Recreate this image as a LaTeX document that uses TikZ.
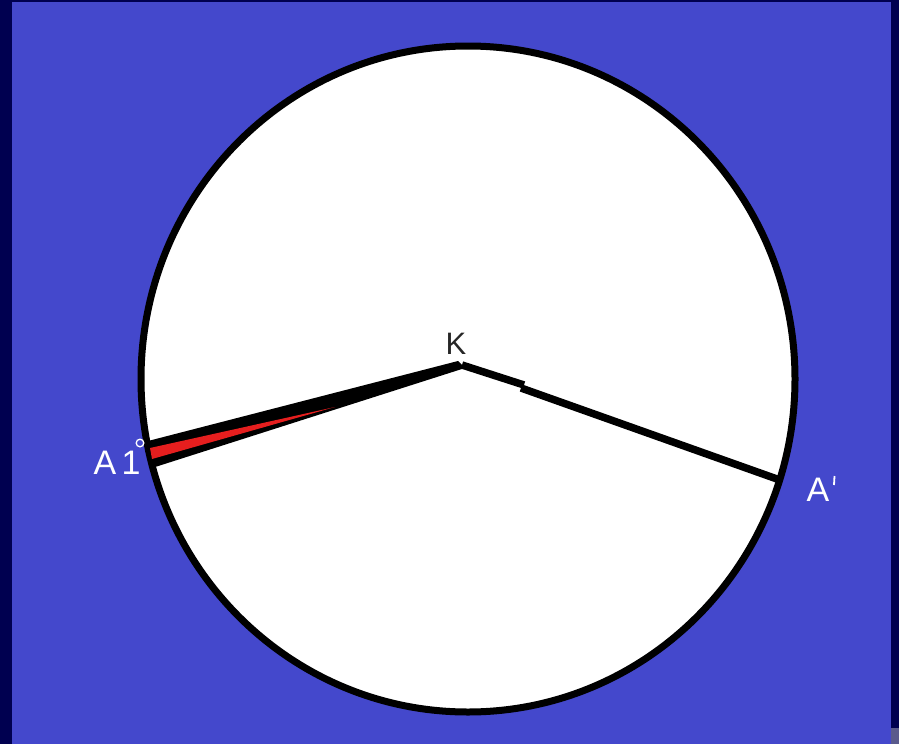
\documentclass[tikz,border=0pt]{standalone}
\usepackage{fontspec}
\setmainfont{Liberation Sans}
\definecolor{navy}{RGB}{0,0,80}
\definecolor{bg}{RGB}{68,72,204}
\definecolor{wred}{RGB}{230,30,30}
\definecolor{corner}{RGB}{90,90,140}
\begin{document}
\begin{tikzpicture}[x=1pt,y=-1pt,
  lbl/.style={text=white,font=\fontsize{34}{36}\selectfont,inner sep=0pt},
  rad/.style={line width=7.5pt,line join=miter}]
\useasboundingbox (0,0) rectangle (899,744);
\fill[navy] (0,0) rectangle (899,744);
\fill[bg] (12,2) rectangle (891,744);
\fill[corner] (891,728) rectangle (899,744);
\fill[white,draw=black,line width=7pt] (468,379) ellipse [x radius=327, y radius=333];
\coordinate (K) at (462,365);
\coordinate (A) at (150,455);
\coordinate (A2) at (777,479);
\coordinate (S1) at (524,385);
\coordinate (S2) at (521,388);
% left radius: tapering band
\fill[black] (148,441) -- (458,361) -- (465,368) -- (152,468) -- cycle;
\fill[wred] (150,448) -- (335,407) -- (152,459) -- cycle;
% right radius with a small step
\draw[rad] (K) -- (S1);
\draw[rad] (S2) -- (A2);
\node[font=\fontsize{31}{33}\selectfont,inner sep=0pt,text=black!85] (k) at (456,344) {K};
\node[lbl] (a) at (105,463) {A};
\node[lbl] (one) at (131,463) {1};
\draw[white,line width=1.3pt] (140,443) circle (3.8);
\node[lbl] (ap) at (818,490) {A};
\draw[white,line width=1.8pt] (834.5,476) -- (834,485);
\end{tikzpicture}
\end{document}
